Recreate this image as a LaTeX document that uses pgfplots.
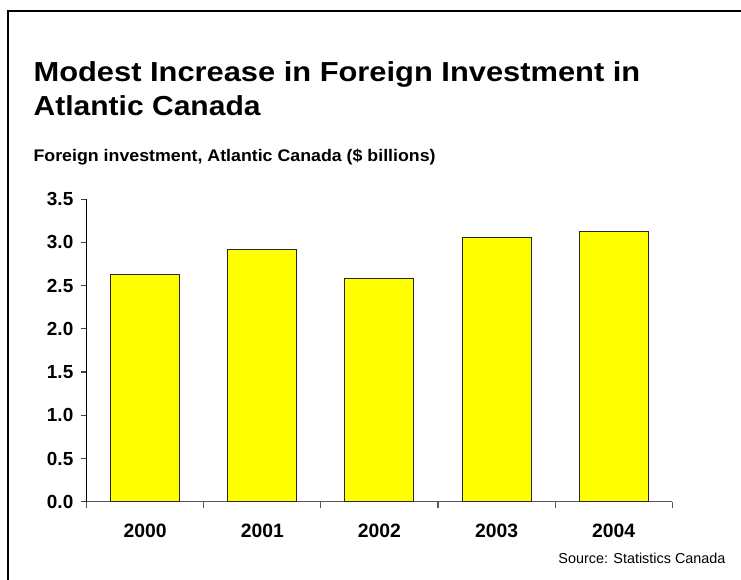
\documentclass[border=0pt]{standalone}
\usepackage{pgfplots}
\pgfplotsset{compat=1.18}
\usepackage{fontspec}
\setmainfont{Liberation Sans}
\definecolor{baryellow}{RGB}{255,255,0}
\begin{document}
\begin{tikzpicture}
\path[use as bounding box] (0,0) rectangle (555.75pt,435pt);
% frame (clipped at right and bottom as in the reference)
\draw[line width=1.5pt,black] (6pt,-2pt) -- (6pt,426.75pt) -- (560pt,426.75pt);
% titles
\node[anchor=base west,inner sep=0pt,font=\bfseries\fontsize{20.6}{24}\selectfont] at (25pt,373.7pt) {\resizebox{455pt}{\height}{Modest Increase in Foreign Investment in}};
\node[anchor=base west,inner sep=0pt,font=\bfseries\fontsize{20.6}{24}\selectfont] at (25pt,348pt) {\resizebox{170.25pt}{\height}{Atlantic Canada}};
\node[anchor=base west,inner sep=0pt,font=\bfseries\fontsize{12.6}{15}\selectfont] at (25pt,313.5pt) {\resizebox{301.5pt}{\height}{Foreign investment, Atlantic Canada (\$ billions)}};
\node[anchor=base east,inner sep=0pt,font=\fontsize{10.8}{13}\selectfont] at (544.3pt,12.5pt) {Source: Statistics Canada};
\begin{axis}[
  at={(65.0pt,58.7pt)}, anchor=south west,
  scale only axis,
  width=439.2pt, height=227pt,
  xmin=-0.5, xmax=4.5, ymin=0, ymax=3.5,
  axis x line*=bottom, axis y line*=left,
  x axis line style={black!65, line width=0.8pt},
  y axis line style={black, line width=0.8pt},
  tick align=outside,
  major tick length=4.5pt,
  xtick={-0.5,0.5,1.5,2.5,3.5,4.5},
  xticklabels={},
  x tick style={black!65, line width=0.8pt},
  y tick style={black!75, line width=0.8pt},
  extra x ticks={0,1,2,3,4},
  extra x tick labels={2000,2001,2002,2003,2004},
  extra x tick style={major tick length=0pt, tick style={draw=none},
     xticklabel style={font=\bfseries\fontsize{14.5}{16}\selectfont, yshift=-13pt}},
  ytick={0,0.5,1,1.5,2,2.5,3,3.5},
  yticklabel style={font=\bfseries\fontsize{14.2}{16}\selectfont, xshift=-2pt},
  /pgf/number format/.cd, fixed, fixed zerofill, precision=1, assume math mode=true,
]
\addplot[ybar, bar width=51.75pt, fill=baryellow, draw=black!85, line width=0.75pt]
  coordinates {(0,2.63) (1,2.92) (2,2.58) (3,3.06) (4,3.12)};
\end{axis}
\end{tikzpicture}
\end{document}
